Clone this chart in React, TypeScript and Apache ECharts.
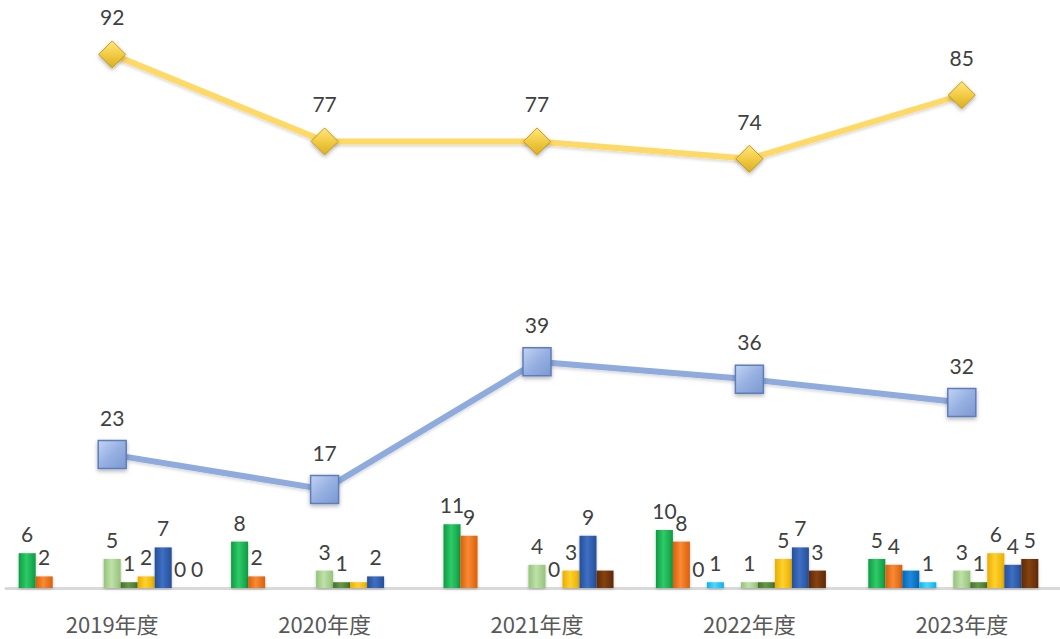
import React, { useEffect, useRef } from "react";
import * as echarts from "echarts";

const categories = ["2019年度", "2020年度", "2021年度", "2022年度", "2023年度"];

// Line series
const lineTop = [92, 77, 77, 74, 85];
const lineBottom = [23, 17, 39, 36, 32];

// Bar series (slot order within each category)
const barGreen = [6, 8, 11, 10, 5];
const barOrange = [2, 2, 9, 8, 4];
const barBlue = [null, null, null, 0, 3];
const barCyan = [null, null, null, 1, 1];
const barEmpty = [null, null, null, null, null];
const barLightGreen = [5, 3, 4, 1, 3];
const barDarkGreen = [1, 1, 0, 1, 1];
const barYellow = [2, 1, 3, 5, 6];
const barDarkBlue = [7, 2, 9, 7, 4];
const barBrown = [0, null, 3, 3, 5];
const barExtra = [0, null, null, null, null];

// category indices whose value label is not shown
const hiddenBlue = [4];
const hiddenDarkGreen = [3];
const hiddenYellow = [1];
const hiddenBrown = [2];

const FONT = "Lato, 'Noto Sans', sans-serif";

function grad(edge: string, mid: string) {
  return new echarts.graphic.LinearGradient(0, 0, 1, 0, [
    { offset: 0, color: edge },
    { offset: 0.45, color: mid },
    { offset: 1, color: edge },
  ]);
}

function barSeries(
  name: string,
  values: (number | null)[],
  edge: string,
  mid: string,
  hidden: number[] = []
) {
  return {
    name,
    type: "bar",
    barWidth: 17,
    barGap: "0%",
    data: values.map((v, i) =>
      v === null
        ? "-"
        : hidden.includes(i)
        ? { value: v, label: { show: false } }
        : v
    ),
    itemStyle: {
      color: grad(edge, mid),
      shadowBlur: 3,
      shadowColor: "rgba(0,0,0,0.25)",
      shadowOffsetY: 1,
    },
    label: {
      show: true,
      position: "top",
      distance: 9,
      color: "#404040",
      fontSize: 21,
      fontFamily: FONT,
    },
    z: 2,
  };
}

export default function App() {
  const ref = useRef<HTMLDivElement>(null);
  useEffect(() => {
    if (!ref.current) return;
    const chart = echarts.init(ref.current, undefined, { renderer: "svg" });
    chart.setOption({
      animation: false,
      backgroundColor: "#ffffff",
      grid: { left: 6, top: 8, width: 1062, height: 580, containLabel: false },
      xAxis: {
        type: "category",
        data: categories,
        axisLine: { show: true, lineStyle: { color: "#D9D9D9", width: 3 } },
        axisTick: { show: false },
        axisLabel: {
          color: "#595959",
          fontSize: 22,
          fontFamily: "'Noto Sans CJK SC', sans-serif",
          margin: 24,
        },
        splitLine: { show: false },
      },
      yAxis: {
        type: "value",
        min: 0,
        max: 100,
        show: false,
        splitLine: { show: false },
      },
      series: [
        barSeries("A", barGreen, "#0E9A42", "#2FCB68"),
        barSeries("B", barOrange, "#D9600C", "#F98A34"),
        barSeries("C", barBlue, "#0563B0", "#1E8BDF", hiddenBlue),
        barSeries("D", barCyan, "#0AB2E8", "#4FD6FF"),
        barSeries("E", barEmpty, "#999999", "#BBBBBB"),
        barSeries("F", barLightGreen, "#95C27A", "#BFE1A8"),
        barSeries("G", barDarkGreen, "#46702B", "#659A45", hiddenDarkGreen),
        barSeries("H", barYellow, "#E8AE00", "#FFD02E", hiddenYellow),
        barSeries("I", barDarkBlue, "#264F98", "#3E6FC4"),
        barSeries("J", barBrown, "#5A2A06", "#87420F", hiddenBrown),
        barSeries("K", barExtra, "#7F7F7F", "#A6A6A6"),
        {
          name: "L1",
          type: "line",
          data: lineTop,
          z: 5,
          symbol: "diamond",
          symbolSize: [27, 27],
          lineStyle: {
            color: "#FFD966",
            width: 6,
            shadowBlur: 3,
            shadowColor: "rgba(0,0,0,0.15)",
            shadowOffsetY: 2,
          },
          itemStyle: {
            color: new echarts.graphic.LinearGradient(0, 0, 0, 1, [
              { offset: 0, color: "#FFE680" },
              { offset: 0.5, color: "#F2CC45" },
              { offset: 1, color: "#D9AE22" },
            ]),
            borderColor: "#C89B14",
            borderWidth: 1,
            shadowBlur: 4,
            shadowColor: "rgba(0,0,0,0.3)",
            shadowOffsetY: 2,
          },
          label: {
            show: true,
            position: "top",
            distance: 13,
            color: "#404040",
            fontSize: 21,
            fontFamily: FONT,
          },
        },
        {
          name: "L2",
          type: "line",
          data: lineBottom,
          z: 5,
          symbol: "rect",
          symbolSize: [28, 28],
          lineStyle: {
            color: "#8FAADC",
            width: 6,
            shadowBlur: 3,
            shadowColor: "rgba(0,0,0,0.15)",
            shadowOffsetY: 2,
          },
          itemStyle: {
            color: new echarts.graphic.LinearGradient(0, 0, 1, 1, [
              { offset: 0, color: "#C3D4F2" },
              { offset: 0.5, color: "#96B0E2" },
              { offset: 1, color: "#7C98D0" },
            ]),
            borderColor: "#5E7DBB",
            borderWidth: 1.5,
            shadowBlur: 4,
            shadowColor: "rgba(0,0,0,0.3)",
            shadowOffsetY: 2,
          },
          label: {
            show: true,
            position: "top",
            distance: 12,
            color: "#404040",
            fontSize: 21,
            fontFamily: FONT,
          },
        },
      ],
    });
    return () => chart.dispose();
  }, []);
  return (
    <div
      style={{
        position: "absolute",
        left: 0,
        top: 0,
        width: 1060,
        height: 639,
        overflow: "hidden",
      }}
    >
      <div ref={ref} style={{ width: 1070, height: 639 }} />
    </div>
  );
}
